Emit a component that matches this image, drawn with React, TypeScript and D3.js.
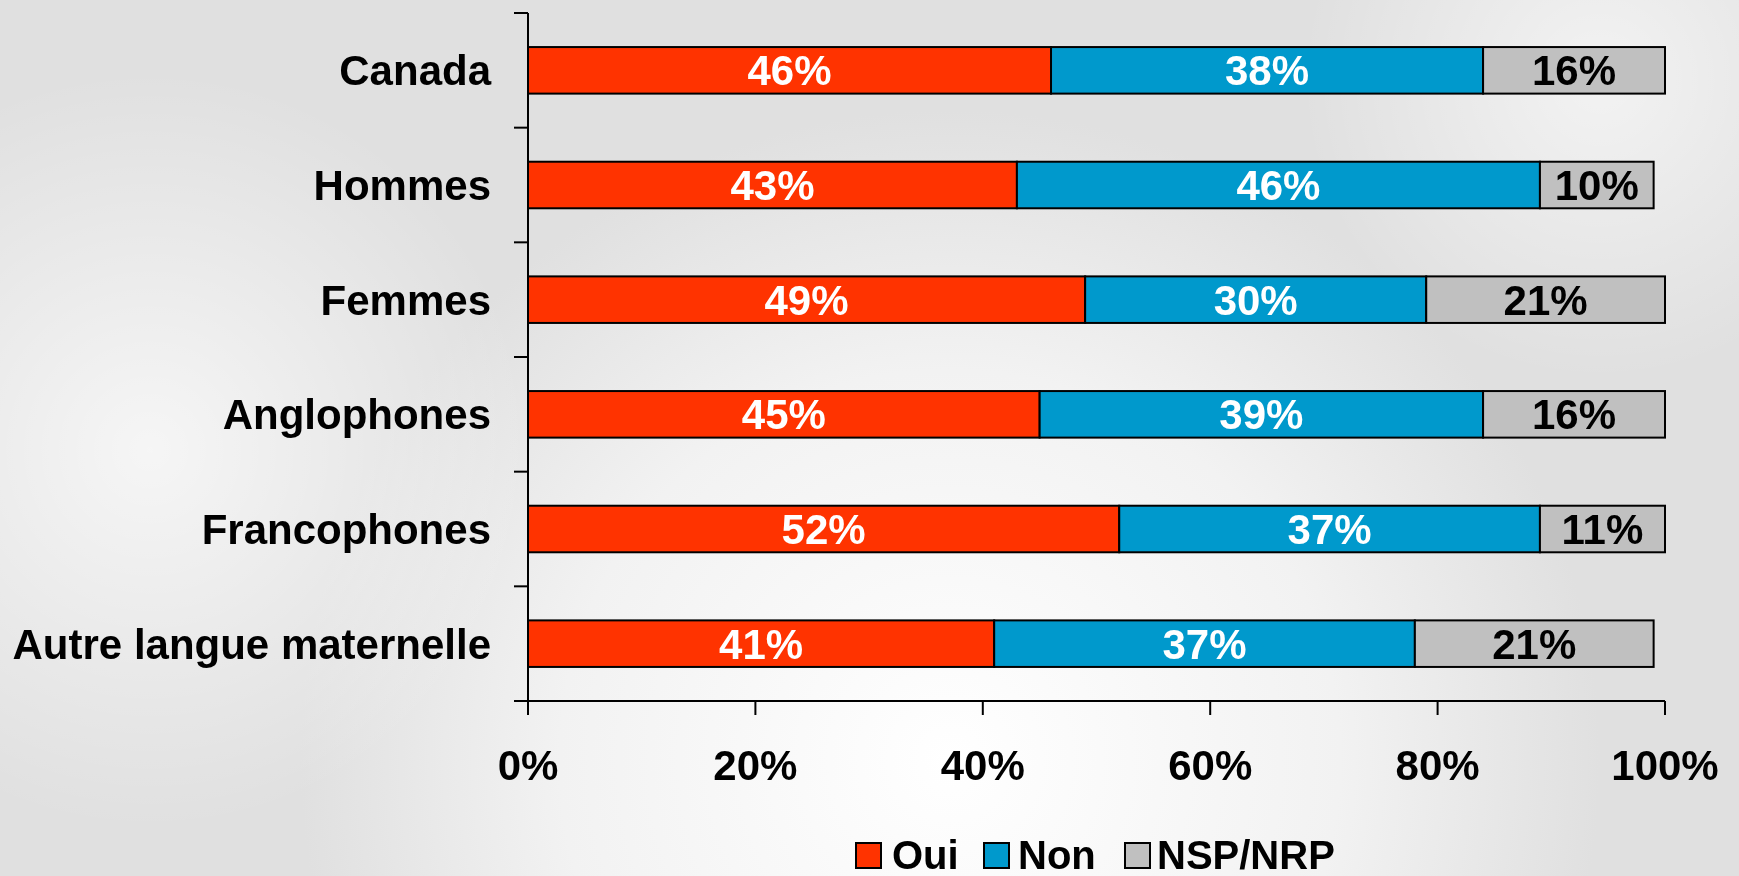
import React from "react";
import * as d3 from "d3";

const categories = ["Canada", "Hommes", "Femmes", "Anglophones", "Francophones", "Autre langue maternelle"];
const oui = [46, 43, 49, 45, 52, 41];
const non = [38, 46, 30, 39, 37, 37];
const nsp = [16, 10, 21, 16, 11, 21];
const seriesNames = ["Oui", "Non", "NSP/NRP"];
const seriesColors = ["#FF3300", "#0099CC", "#C0C0C0"];
const labelColors = ["#FFFFFF", "#FFFFFF", "#000000"];
const xTicks = [0, 20, 40, 60, 80, 100];

const W = 1739;
const H = 876;
const FONT = "'Liberation Sans', Arial, Helvetica, sans-serif";
const FS = 42;

export default function App() {
  const x = d3.scaleLinear().domain([0, 100]).range([528, 1665]);
  const y = d3.scaleBand<string>().domain(categories).range([13, 701]).paddingInner(0).paddingOuter(0);
  const bw = y.bandwidth();
  const barH = bw * 0.406;

  const rows = categories.map((c, i) => {
    const vals = [oui[i], non[i], nsp[i]];
    let acc = 0;
    const segs = vals.map((v, j) => {
      const s = { x0: acc, x1: acc + v, v, j };
      acc += v;
      return s;
    });
    return { c, segs };
  });

  const boundaries = d3.range(categories.length + 1).map((k) => 13 + k * bw);

  const legendItems = [
    { name: seriesNames[0], sx: 856, tx: 892 },
    { name: seriesNames[1], sx: 984, tx: 1018 },
    { name: seriesNames[2], sx: 1125, tx: 1157 },
  ];

  return (
    <div style={{ position: "fixed", left: 0, top: 0, width: W, height: H, overflow: "hidden" }}>
      <svg width={W} height={H} style={{ display: "block" }}>
        <defs>
          <radialGradient id="bg1" cx="950" cy="760" r="650" gradientUnits="userSpaceOnUse">
            <stop offset="0" stopColor="#ffffff" />
            <stop offset="0.6" stopColor="#f2f2f2" />
            <stop offset="1" stopColor="#e0e0e0" />
          </radialGradient>
          <radialGradient id="bg2" cx="150" cy="450" r="380" gradientUnits="userSpaceOnUse">
            <stop offset="0" stopColor="#ffffff" stopOpacity="0.7" />
            <stop offset="1" stopColor="#ffffff" stopOpacity="0" />
          </radialGradient>
          <radialGradient id="bg3" cx="1600" cy="80" r="300" gradientUnits="userSpaceOnUse">
            <stop offset="0" stopColor="#ffffff" stopOpacity="0.6" />
            <stop offset="1" stopColor="#ffffff" stopOpacity="0" />
          </radialGradient>
        </defs>
        <rect x={0} y={0} width={W} height={H} fill="url(#bg1)" />
        <rect x={0} y={0} width={W} height={H} fill="url(#bg2)" />
        <rect x={0} y={0} width={W} height={H} fill="url(#bg3)" />

        {/* bars */}
        {rows.map((r) => {
          const cy = (y(r.c) as number) + bw / 2;
          return (
            <g key={r.c}>
              {r.segs.map((s) => (
                <rect
                  key={s.j}
                  x={x(s.x0)}
                  y={cy - barH / 2}
                  width={x(s.x1) - x(s.x0)}
                  height={barH}
                  fill={seriesColors[s.j]}
                  stroke="#000"
                  strokeWidth={2}
                />
              ))}
              {r.segs.map((s) => (
                <text
                  key={"t" + s.j}
                  x={(x(s.x0) + x(s.x1)) / 2}
                  y={cy}
                  dy="0.36em"
                  textAnchor="middle"
                  fontFamily={FONT}
                  fontWeight="bold"
                  fontSize={FS}
                  fill={labelColors[s.j]}
                >
                  {s.v}%
                </text>
              ))}
              <text
                x={491}
                y={cy}
                dy="0.36em"
                textAnchor="end"
                fontFamily={FONT}
                fontWeight="bold"
                fontSize={FS}
                fill="#000"
              >
                {r.c}
              </text>
            </g>
          );
        })}

        {/* y axis */}
        <line x1={528} x2={528} y1={13} y2={701} stroke="#000" strokeWidth={2} />
        {boundaries.map((b, k) => (
          <line key={k} x1={514} x2={528} y1={b} y2={b} stroke="#000" strokeWidth={2} />
        ))}
        {/* x axis */}
        <line x1={514} x2={1665} y1={701} y2={701} stroke="#000" strokeWidth={2} />
        {xTicks.map((t) => (
          <g key={t}>
            <line x1={x(t)} x2={x(t)} y1={701} y2={715} stroke="#000" strokeWidth={2} />
            <text
              x={x(t)}
              y={765}
              dy="0.36em"
              textAnchor="middle"
              fontFamily={FONT}
              fontWeight="bold"
              fontSize={FS}
              fill="#000"
            >
              {t}%
            </text>
          </g>
        ))}

        {/* legend */}
        {legendItems.map((l, i) => (
          <g key={l.name}>
            <rect x={l.sx} y={843} width={25} height={25} fill={seriesColors[i]} stroke="#000" strokeWidth={2} />
            <text
              x={l.tx}
              y={869}
              fontFamily={FONT}
              fontWeight="bold"
              fontSize={40}
              fill="#000"
            >
              {l.name}
            </text>
          </g>
        ))}
      </svg>
    </div>
  );
}
